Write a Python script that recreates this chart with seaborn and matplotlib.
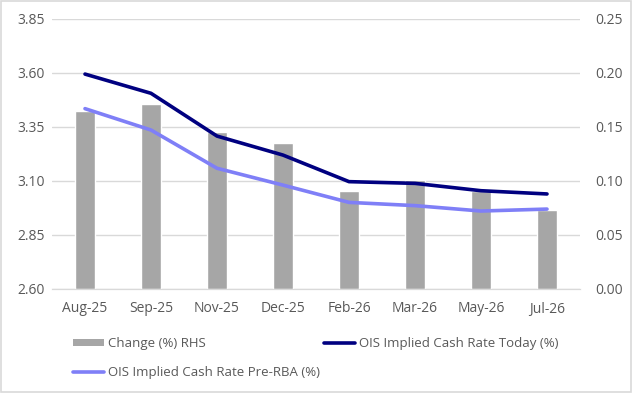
import matplotlib
matplotlib.use('Agg')
import numpy as np
import pandas as pd
import matplotlib.pyplot as plt
import seaborn as sns
from matplotlib.ticker import FixedLocator, FormatStrFormatter
from matplotlib.lines import Line2D
from matplotlib.patches import Patch

# data
months = ['Aug-25', 'Sep-25', 'Nov-25', 'Dec-25', 'Feb-26', 'Mar-26', 'May-26', 'Jul-26']
change_rhs = [0.165, 0.171, 0.145, 0.135, 0.091, 0.101, 0.091, 0.073]
ois_today = [3.595, 3.506, 3.308, 3.220, 3.097, 3.089, 3.055, 3.040]
ois_pre_rba = [3.435, 3.336, 3.159, 3.081, 3.001, 2.986, 2.961, 2.970]

bar_col = '#A6A6A6'
dark_col = '#000080'
light_col = '#7F7FF7'
txt_col = '#595959'
grid_col = '#D9D9D9'

sns.set_style('white')
plt.rcParams['font.family'] = ['Open Sans', 'DejaVu Sans']

df = pd.DataFrame({'month': months, 'change': change_rhs,
                   'today': ois_today, 'pre': ois_pre_rba})

fig = plt.figure(figsize=(6.32, 3.93), dpi=100)
ax = fig.add_axes([52 / 632, 1 - 289 / 393, 528 / 632, 270 / 393])
ax2 = ax.twinx()

# bars on the right axis (drawn underneath)
sns.barplot(data=df, x='month', y='change', color=bar_col, width=0.3,
            saturation=1, ax=ax2, zorder=2)
ax2.set_ylim(0, 0.25)
ax2.yaxis.set_major_locator(FixedLocator(np.arange(0, 0.2501, 0.05)))
ax2.yaxis.set_major_formatter(FormatStrFormatter('%.2f'))
ax2.grid(axis='y', color=grid_col, linewidth=1, zorder=0)
ax2.set_axisbelow(True)

# lines on the left axis, put on top
sns.lineplot(data=df, x='month', y='today', color=dark_col, linewidth=2.6,
             sort=False, ax=ax)
sns.lineplot(data=df, x='month', y='pre', color=light_col, linewidth=2.6,
             sort=False, ax=ax)
ax.set_zorder(ax2.get_zorder() + 1)
ax.patch.set_visible(False)
ax.set_ylim(2.60, 3.85)
ax.yaxis.set_major_locator(FixedLocator(np.arange(2.60, 3.851, 0.25)))
ax.yaxis.set_major_formatter(FormatStrFormatter('%.2f'))
ax.set_xlim(-0.5, len(months) - 0.5)

for a in (ax, ax2):
    a.set_xlabel('')
    a.set_ylabel('')
    for s in ['top', 'left', 'right']:
        a.spines[s].set_visible(False)
ax.tick_params(axis='y', length=0, labelsize=10, labelcolor=txt_col, pad=5)
ax2.tick_params(axis='y', length=0, labelsize=10, labelcolor=txt_col, pad=11)
ax2.spines['bottom'].set_color(grid_col)
ax.spines['bottom'].set_color(grid_col)

ax.xaxis.set_minor_locator(FixedLocator(np.arange(-0.5, len(months), 1.0)))
ax.tick_params(axis='x', which='major', length=0, labelsize=10, labelcolor=txt_col, pad=9)
ax.tick_params(axis='x', which='minor', length=5, color=grid_col)
ax2.tick_params(axis='x', length=0, labelbottom=False)

handles = [Patch(facecolor=bar_col, edgecolor='none'),
           Line2D([0], [0], color=light_col, linewidth=2.6),
           Line2D([0], [0], color=dark_col, linewidth=2.6)]
labels = ['Change (%) RHS', 'OIS Implied Cash Rate Pre-RBA (%)',
          'OIS Implied Cash Rate Today (%)']
leg = fig.legend(handles, labels, ncol=2, loc='upper left',
                 bbox_to_anchor=(73 / 632, 1 - 337 / 393), frameon=False,
                 fontsize=9.5, handlelength=2.35, handleheight=0.5,
                 handletextpad=0.3, columnspacing=0.3, labelspacing=1.25,
                 borderpad=0, borderaxespad=0)
for t in leg.get_texts():
    t.set_color(txt_col)

# light border around the whole chart
fig.patches.append(plt.Rectangle((0.002, 0.003), 0.996, 0.994, transform=fig.transFigure,
                                 fill=False, edgecolor='#D9D9D9', linewidth=1.2))

fig.savefig('out.png', dpi=100)
